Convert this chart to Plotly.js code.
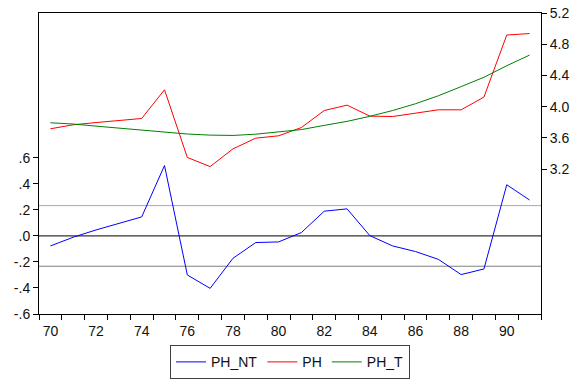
<!DOCTYPE html>
<html>
<head>
<meta charset="utf-8">
<script src="https://cdn.plot.ly/plotly-3.0.1.min.js"></script>
<style>html,body{margin:0;padding:0;background:#fff;}#chart{width:572px;height:380px;}</style>
</head>
<body>
<div id="chart"></div>
<script>
// Years (two-digit labels)
var years = [70,71,72,73,74,75,76,77,78,79,80,81,82,83,84,85,86,87,88,89,90,91];
var xTickVals = [70,72,74,76,78,80,82,84,86,88,90];
var xTickText = ["70","72","74","76","78","80","82","84","86","88","90"];
var xBoundaryTicks = [69.5,70.5,71.5,72.5,73.5,74.5,75.5,76.5,77.5,78.5,79.5,80.5,81.5,82.5,83.5,84.5,85.5,86.5,87.5,88.5,89.5,90.5,91.5];

// Series
var ph_nt = [-0.077,-0.010,0.046,0.097,0.146,0.541,-0.300,-0.403,-0.172,-0.051,-0.046,0.026,0.190,0.208,0.002,-0.077,-0.120,-0.180,-0.297,-0.254,0.393,0.276];
var ph    = [3.717,3.768,3.797,3.823,3.849,4.217,3.350,3.233,3.460,3.597,3.627,3.733,3.951,4.020,3.879,3.874,3.918,3.960,3.960,4.123,4.918,4.937];
var ph_t  = [3.794,3.778,3.751,3.726,3.703,3.676,3.650,3.636,3.632,3.648,3.673,3.707,3.761,3.812,3.877,3.951,4.038,4.140,4.257,4.377,4.525,4.661];

// Reference levels for PH_NT
var ntZero = 0;
var ntBand = 0.233;

// Axis tick labels
var leftTickVals = [-0.6,-0.4,-0.2,0,0.2,0.4,0.6];
var leftTickText = ["-.6","-.4","-.2",".0",".2",".4",".6"];
var rightTickVals = [3.2,3.6,4.0,4.4,4.8,5.2];
var rightTickText = ["3.2","3.6","4.0","4.4","4.8","5.2"];

var font = {family: "'Liberation Sans', Arial, sans-serif", size: 14, color: "#111"};

var traces = [
  {x: years, y: ph_nt, name: "PH_NT", type: "scatter", mode: "lines", yaxis: "y",
   line: {color: "#0000ff", width: 1}},
  {x: years, y: ph, name: "PH", type: "scatter", mode: "lines", yaxis: "y2",
   line: {color: "#ff0000", width: 1}},
  {x: years, y: ph_t, name: "PH_T", type: "scatter", mode: "lines", yaxis: "y2",
   line: {color: "#008000", width: 1}}
];

var layout = {
  width: 572, height: 380,
  margin: {l: 39, r: 31, t: 13, b: 66, pad: 0, autoexpand: false},
  paper_bgcolor: "#fff", plot_bgcolor: "#fff",
  font: font,
  showlegend: true,
  legend: {orientation: "h", x: 0.5, xanchor: "center", y: -0.104, yanchor: "top",
           bordercolor: "#404040", borderwidth: 1, bgcolor: "#fff",
           itemwidth: 30, font: font, traceorder: "normal"},
  xaxis: {range: [69.5, 91.5], tickmode: "array", tickvals: xTickVals, ticktext: xTickText,
          ticks: "outside", ticklen: 4, tickcolor: "rgba(0,0,0,0)",
          showline: true, linecolor: "#000", linewidth: 1, mirror: true,
          showgrid: false, zeroline: false, tickfont: font,
          minor: {tickmode: "array", tickvals: xBoundaryTicks, ticks: "outside", ticklen: 5,
                  tickcolor: "#000", tickwidth: 1, showgrid: false}},
  yaxis: {range: [-0.6, 1.713], tickmode: "array", tickvals: leftTickVals, ticktext: leftTickText,
          ticks: "outside", ticklen: 5, tickcolor: "#000", tickwidth: 1,
          showline: true, linecolor: "#000", linewidth: 1,
          showgrid: false, zeroline: false, tickfont: font},
  yaxis2: {range: [1.345, 5.2], overlaying: "y", side: "right",
           tickmode: "array", tickvals: rightTickVals, ticktext: rightTickText,
           ticks: "outside", ticklen: 5, tickcolor: "#000", tickwidth: 1,
           showline: true, linecolor: "#000", linewidth: 1,
           showgrid: false, zeroline: false, tickfont: font},
  shapes: [
    {type: "line", xref: "paper", x0: 0, x1: 1, yref: "y", y0: ntBand, y1: ntBand,
     line: {color: "#aaaaaa", width: 1}, layer: "below"},
    {type: "line", xref: "paper", x0: 0, x1: 1, yref: "y", y0: -ntBand, y1: -ntBand,
     line: {color: "#808080", width: 1}, layer: "below"},
    {type: "line", xref: "paper", x0: 0, x1: 1, yref: "y", y0: ntZero, y1: ntZero,
     line: {color: "#000000", width: 1}, layer: "below"}
  ]
};

Plotly.newPlot("chart", traces, layout, {staticPlot: true, displayModeBar: false});
</script>
</body>
</html>
